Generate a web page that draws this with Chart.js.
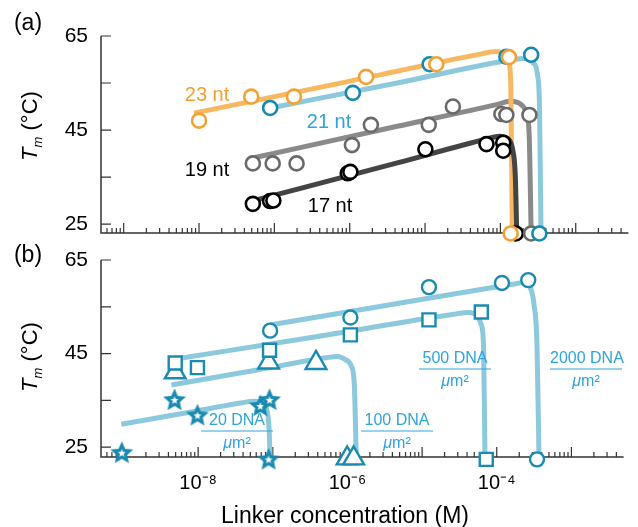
<!DOCTYPE html>
<html><head><meta charset="utf-8">
<script src="https://cdn.jsdelivr.net/npm/chart.js@4.4.1/dist/chart.umd.min.js"></script>
<style>
html,body{margin:0;padding:0;background:#fff}
body{width:638px;height:527px;position:relative;overflow:hidden;font-family:"Liberation Sans",Arial,Helvetica,sans-serif;color:#000}
canvas{position:absolute;left:0}
#chartA{top:0}
#chartB{top:234px}
.lbl{position:absolute;white-space:nowrap;line-height:1;transform:translate(-50%,-50%)}
.ylab{position:absolute;white-space:nowrap;line-height:1;font-size:22px;transform:translate(-50%,-50%) rotate(-90deg)}
.ylab sub{font-size:13px;vertical-align:-5px}
.frac{position:absolute;width:72px;transform:translate(-50%,-50%);color:#2ea4db;font-size:16px;text-align:center;line-height:1}
.frac span{display:block;white-space:nowrap}
.frac .bar{height:0;border-top:1.5px solid #2ea4db;margin:3px 0}
</style></head>
<body>
<canvas id="chartA" width="638" height="263"></canvas>
<canvas id="chartB" width="638" height="293"></canvas>

<div class="lbl" style="left:28px;top:22px;font-size:23px">(a)</div>
<div class="lbl" style="left:28px;top:254px;font-size:23px">(b)</div>
<div class="ylab" style="left:31px;top:126px"><i>T</i><sub><i>m</i></sub> (°C)</div>
<div class="ylab" style="left:31px;top:357px"><i>T</i><sub><i>m</i></sub> (°C)</div>
<div class="lbl" style="left:345px;top:515px;font-size:23px">Linker concentration (M)</div>

<div class="lbl" style="left:207px;top:94px;font-size:20px;color:#f5a032">23 nt</div>
<div class="lbl" style="left:329px;top:121px;font-size:20px;color:#2ea4db">21 nt</div>
<div class="lbl" style="left:207px;top:169px;font-size:20px">19 nt</div>
<div class="lbl" style="left:330px;top:205px;font-size:20px">17 nt</div>

<div class="frac" style="left:237px;top:431px"><span>20 DNA</span><span class="bar"></span><span><i>μ</i>m²</span></div>
<div class="frac" style="left:397px;top:431px"><span>100 DNA</span><span class="bar"></span><span><i>μ</i>m²</span></div>
<div class="frac" style="left:455px;top:369px"><span>500 DNA</span><span class="bar"></span><span><i>μ</i>m²</span></div>
<div class="frac" style="left:586px;top:369px"><span>2000 DNA</span><span class="bar"></span><span><i>μ</i>m²</span></div>

<script>
// ================= DATA =================
// Axis ticks
const yTickValues = [25, 35, 45, 55, 65];
const yTickLabels = ['25', '', '45', '', '65'];
const xTickLabelValues = [1e-8, 1e-6, 1e-4];
const xTickLabels = ['10⁻⁸', '10⁻⁶', '10⁻⁴'];
const xRange = [5e-10, 5e-3];

// ---- Panel (a): measured Tm (°C) vs linker concentration (M) ----
const nt23X = [1.0e-8, 4.93e-8, 1.82e-7, 1.65e-6, 1.41e-5, 1.30e-4, 1.37e-4];
const nt23Y = [47.0, 52.1, 52.1, 56.3, 59.0, 60.5, 23.0];
const nt21X = [8.78e-8, 1.10e-6, 1.15e-5, 1.20e-4, 2.56e-4, 3.29e-4];
const nt21Y = [49.7, 52.9, 59.0, 60.6, 61.0, 23.0];
const nt19X = [5.18e-8, 9.50e-8, 1.97e-7, 1.07e-6, 1.91e-6, 1.12e-5, 2.34e-5, 1.03e-4, 1.20e-4, 2.43e-4, 2.56e-4];
const nt19Y = [37.9, 37.9, 37.9, 41.8, 46.1, 46.1, 50.0, 48.4, 48.2, 48.2, 23.0];
const nt17X = [5.18e-8, 8.78e-8, 9.70e-8, 9.41e-7, 1.02e-6, 1.01e-5, 6.54e-5, 1.09e-4, 1.09e-4, 1.60e-4];
const nt17Y = [29.3, 29.9, 30.0, 35.8, 36.1, 40.9, 42.0, 42.3, 40.6, 23.0];

// ---- Panel (a): fitted curves ----
const fit23X = [8.59e-9, 9.41e-7, 5.62e-5, 8.59e-5, 1.13e-4, 1.29e-4, 1.374e-4, 1.438e-4];
const fit23Y = [48.6, 55.3, 61.2, 61.7, 61.2, 59.5, 54.6, 23.0];
const fit21X = [8.86e-8, 4.28e-6, 1.395e-4, 2.07e-4, 2.72e-4, 3.11e-4, 3.31e-4, 3.46e-4];
const fit21Y = [49.7, 55.0, 59.9, 60.2, 59.3, 56.7, 49.3, 23.0];
const fit19X = [4.98e-8, 4.28e-6, 8.86e-5, 1.353e-4, 1.89e-4, 2.23e-4, 2.41e-4, 2.56e-4];
const fit19Y = [39.0, 45.8, 50.4, 51.1, 50.4, 48.4, 43.9, 23.0];
const fit17X = [5.29e-8, 4.28e-6, 6.54e-5, 9.70e-5, 1.274e-4, 1.46e-4, 1.575e-4, 1.649e-4];
const fit17Y = [30.0, 38.0, 43.1, 43.7, 43.1, 40.7, 35.4, 23.0];

// ---- Panel (b): measured Tm for DNA coverage (per μm²) ----
const d20X = [9.5e-10, 4.83e-9, 9.79e-9, 6.81e-8, 9.05e-8, 8.78e-8];
const d20Y = [23.8, 35.1, 31.8, 33.8, 35.1, 22.4];
const d100X = [4.93e-9, 8.78e-8, 3.79e-7, 9.91e-7, 1.21e-6];
const d100Y = [41.0, 43.1, 43.0, 22.6, 22.6];
const d500X = [4.93e-9, 9.79e-9, 9.05e-8, 1.095e-6, 1.236e-5, 6.21e-5, 7.23e-5];
const d500Y = [43.0, 42.0, 45.7, 49.0, 52.2, 53.9, 22.4];
const d2000X = [9.21e-8, 1.095e-6, 1.236e-5, 1.174e-4, 2.64e-4, 3.46e-4];
const d2000Y = [49.9, 52.7, 59.2, 60.1, 60.7, 22.4];

// ---- Panel (b): fitted curves ----
const fitD20X = [9.33e-10, 1.0e-8, 3.91e-8, 5.80e-8, 7.39e-8, 8.46e-8, 8.94e-8, 9.19e-8];
const fitD20Y = [29.9, 32.8, 34.5, 34.8, 34.3, 32.5, 28.6, 22.9];
const fitD100X = [4.37e-9, 6.16e-8, 5.13e-7, 7.39e-7, 9.41e-7, 1.129e-6, 1.236e-6, 1.313e-6];
const fitD100Y = [38.3, 41.5, 44.1, 44.4, 43.7, 42.3, 38.3, 22.9];
const fitD500X = [5.74e-9, 3.79e-7, 2.64e-5, 4.15e-5, 5.29e-5, 6.16e-5, 6.65e-5, 6.95e-5];
const fitD500Y = [44.0, 48.6, 53.4, 53.8, 53.3, 51.3, 46.8, 22.9];
const fitD2000X = [9.13e-8, 4.28e-6, 1.62e-4, 2.34e-4, 2.80e-4, 3.16e-4, 3.46e-4, 3.68e-4];
const fitD2000Y = [51.1, 55.6, 59.8, 60.2, 59.2, 55.4, 46.8, 22.9];

// ================= STYLES / HELPERS =================
const FONT = '"Liberation Sans", Arial, Helvetica, sans-serif';
const C = {
  orangeM: '#f5a032', orangeL: '#f8b862',
  blueM: '#1689b0', blueL: '#8cc9dc',
  grayM: '#6a6a6a', grayL: '#8a8a8a',
  blackM: '#000000', blackL: '#444444',
  tealM: '#1a8ab0', tealL: '#8cc9dc'
};
const toPts = (xs, ys) => xs.map((x, i) => ({x: x, y: ys[i]}));
function markers(xs, ys, color, style, radius, bw) {
  return {data: toPts(xs, ys), showLine: false, pointStyle: style, pointRadius: radius,
    pointHoverRadius: radius, pointBorderColor: color, pointBackgroundColor: '#ffffff',
    pointBorderWidth: bw, clip: false};
}
function curve(xs, ys, color, w) {
  return {data: toPts(xs, ys), borderColor: color, borderWidth: w, pointRadius: 0,
    pointHoverRadius: 0, cubicInterpolationMode: 'monotone', fill: false, clip: false,
    borderCapStyle: 'butt', borderJoinStyle: 'round'};
}
function makeStar(color) {
  const c = document.createElement('canvas');
  c.width = 26; c.height = 26;
  const g = c.getContext('2d');
  const star = (R, r) => {
    g.beginPath();
    for (let i = 0; i < 10; i++) {
      const a = -Math.PI / 2 + i * Math.PI / 5;
      const rad = i % 2 ? r : R;
      g.lineTo(13 + rad * Math.cos(a), 13.5 + rad * Math.sin(a));
    }
    g.closePath();
  };
  star(12, 5.6); g.fillStyle = color; g.fill();
  star(4.2, 1.8); g.fillStyle = '#ffffff'; g.fill();
  return c;
}
const isPow10 = v => { const e = Math.log10(v); return Math.abs(e - Math.round(e)) < 1e-6; };

const inwardAxes = {
  id: 'inwardAxes',
  beforeDatasetsDraw(chart) {
    const {ctx, chartArea: a, scales: {x, y}} = chart;
    ctx.save();
    ctx.strokeStyle = '#333333';
    ctx.lineWidth = 1.5;
    ctx.beginPath();
    ctx.moveTo(a.left, a.top);
    ctx.lineTo(a.left, a.bottom);
    ctx.lineTo(a.right, a.bottom);
    ctx.stroke();
    ctx.lineWidth = 1.2;
    ctx.beginPath();
    y.ticks.forEach(t => {
      const p = y.getPixelForValue(t.value);
      ctx.moveTo(a.left, p); ctx.lineTo(a.left + 10, p);
    });
    x.ticks.forEach(t => {
      const p = x.getPixelForValue(t.value);
      ctx.moveTo(p, a.bottom); ctx.lineTo(p, a.bottom - (isPow10(t.value) ? 10 : 5));
    });
    ctx.stroke();
    ctx.restore();
  }
};

function options(yMin, xHeight, padTop, showXLabels) {
  return {
    responsive: false, animation: false, events: [],
    layout: {padding: {top: padTop, right: 4, left: 0, bottom: 0}},
    plugins: {legend: {display: false}, tooltip: {enabled: false}},
    scales: {
      x: {
        type: 'logarithmic', min: xRange[0], max: xRange[1],
        afterBuildTicks: s => {
          const out = [];
          for (let e = -11; e <= -1; e++) for (let m = 1; m <= 9; m++) {
            const v = m * Math.pow(10, e);
            if (v > xRange[0] * 1.0001 && v < xRange[1] * 0.9999) out.push({value: v});
          }
          s.ticks = out;
        },
        ticks: {
          display: showXLabels, autoSkip: false, maxRotation: 0, minRotation: 0, padding: 14,
          color: '#000', font: {family: FONT, size: 20},
          callback: v => {
            const i = xTickLabelValues.findIndex(t => Math.abs(Math.log10(t) - Math.log10(v)) < 1e-6);
            return i >= 0 ? xTickLabels[i] : '';
          }
        },
        grid: {display: false, drawTicks: false},
        border: {display: false},
        afterFit: s => { s.height = xHeight; }
      },
      y: {
        type: 'linear', min: yMin, max: 65,
        afterBuildTicks: s => { s.ticks = yTickValues.map(v => ({value: v})); },
        ticks: {
          autoSkip: false, padding: 13, color: '#000', font: {family: FONT, size: 21},
          callback: v => { const i = yTickValues.indexOf(v); return i >= 0 ? yTickLabels[i] : ''; }
        },
        grid: {display: false, drawTicks: false},
        border: {display: false},
        afterFit: s => { s.width = 101; }
      }
    }
  };
}

// ================= PANEL (a) =================
new Chart(document.getElementById('chartA'), {
  type: 'line',
  data: {datasets: [
    markers(nt23X, nt23Y, C.orangeM, 'circle', 7, 2.6),
    markers(nt21X, nt21Y, C.blueM, 'circle', 7, 2.6),
    markers(nt19X, nt19Y, C.grayM, 'circle', 7, 2.6),
    markers(nt17X, nt17Y, C.blackM, 'circle', 7, 2.6),
    curve(fit17X, fit17Y, C.blackL, 5),
    curve(fit23X, fit23Y, C.orangeL, 5),
    curve(fit19X, fit19Y, C.grayL, 5),
    curve(fit21X, fit21Y, C.blueL, 5)
  ]},
  options: options(23.1, 30, 36, false),
  plugins: [inwardAxes]
});

// ================= PANEL (b) =================
new Chart(document.getElementById('chartB'), {
  type: 'line',
  data: {datasets: [
    markers(d2000X, d2000Y, C.tealM, 'circle', 7, 2.4),
    markers(d500X, d500Y, C.tealM, 'rect', 9.2, 2.4),
    markers(d100X, d100Y, C.tealM, 'triangle', 12, 2.4),
    markers(d20X, d20Y, C.tealM, makeStar(C.tealM), 12, 0),
    curve(fitD20X, fitD20Y, C.tealL, 5),
    curve(fitD100X, fitD100Y, C.tealL, 5),
    curve(fitD500X, fitD500Y, C.tealL, 5),
    curve(fitD2000X, fitD2000Y, C.tealL, 5)
  ]},
  options: options(22.9, 70, 26, true),
  plugins: [inwardAxes]
});
</script>
</body></html>
